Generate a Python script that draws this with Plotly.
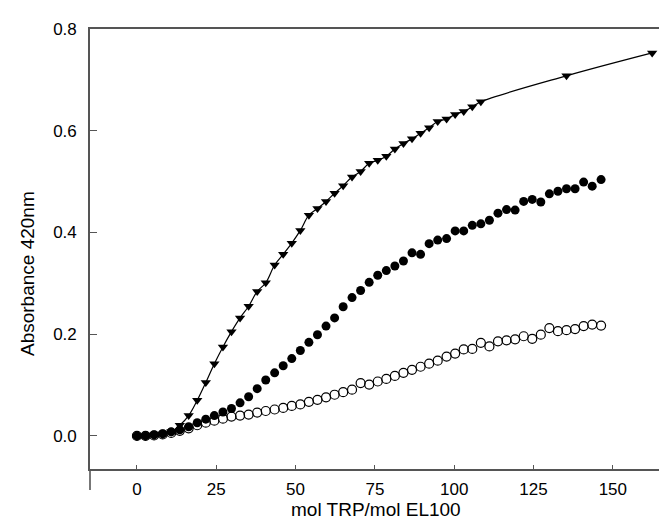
import plotly.graph_objects as go

# titration points: mol TRP / mol EL100, roughly 2.71 apart
tri_x = [0, 2.7, 5.4, 8.1, 10.8, 13.5, 16.3, 19.0, 21.7, 24.4, 27.1, 29.8, 32.5,
         35.2, 37.9, 40.6, 43.4, 46.1, 48.8, 51.5, 54.2, 56.9, 59.6, 62.3, 65.0,
         67.8, 70.5, 73.2, 75.9, 78.6, 81.3, 84.0, 86.7, 89.4, 92.1, 94.8, 97.6,
         100.3, 103.0, 105.7, 108.4, 135.4, 162.4]
tri_y = [0.0, 0.0, 0.002, 0.004, 0.008, 0.021, 0.040, 0.070, 0.105, 0.142, 0.175,
         0.205, 0.232, 0.255, 0.284, 0.301, 0.336, 0.357, 0.379, 0.404, 0.434,
         0.447, 0.461, 0.477, 0.492, 0.509, 0.520, 0.536, 0.542, 0.550, 0.564,
         0.575, 0.584, 0.595, 0.606, 0.618, 0.623, 0.632, 0.638, 0.647, 0.657,
         0.708, 0.753]

circ_x = [0, 2.7, 5.4, 8.1, 10.8, 13.5, 16.3, 19.0, 21.7, 24.4, 27.1, 29.8, 32.5,
          35.2, 37.9, 40.6, 43.4, 46.1, 48.8, 51.5, 54.2, 56.9, 59.6, 62.3, 65.0,
          67.8, 70.5, 73.2, 75.9, 78.6, 81.3, 84.0, 86.7, 89.4, 92.1, 94.8, 97.6,
          100.3, 103.0, 105.7, 108.4, 111.1, 113.8, 116.5, 119.2, 121.9, 124.6,
          127.3, 130.0, 132.7, 135.4, 138.1, 140.8, 143.5, 146.3]
filled_y = [0.0, 0.0, 0.002, 0.004, 0.008, 0.012, 0.018, 0.026, 0.033, 0.040,
            0.047, 0.054, 0.065, 0.077, 0.093, 0.110, 0.124, 0.138, 0.152, 0.168,
            0.184, 0.199, 0.216, 0.232, 0.254, 0.272, 0.286, 0.302, 0.316, 0.325,
            0.334, 0.344, 0.360, 0.357, 0.378, 0.385, 0.388, 0.403, 0.403, 0.414,
            0.417, 0.424, 0.438, 0.445, 0.444, 0.461, 0.465, 0.460, 0.476, 0.481,
            0.486, 0.486, 0.499, 0.491, 0.504]
open_y = [0.0, 0.0, 0.001, 0.003, 0.006, 0.010, 0.015, 0.021, 0.026, 0.030,
          0.034, 0.038, 0.040, 0.042, 0.046, 0.049, 0.052, 0.055, 0.059, 0.062,
          0.067, 0.071, 0.076, 0.081, 0.086, 0.091, 0.104, 0.101, 0.107, 0.112,
          0.118, 0.124, 0.130, 0.136, 0.142, 0.148, 0.156, 0.162, 0.170, 0.171,
          0.183, 0.176, 0.186, 0.188, 0.190, 0.196, 0.191, 0.199, 0.212, 0.206,
          0.208, 0.210, 0.216, 0.219, 0.217]

x_ticks = [0, 25, 50, 75, 100, 125, 150]
y_ticks = [0.0, 0.2, 0.4, 0.6, 0.8]
y_labels = ["0.0", "0.2", "0.4", "0.6", "0.8"]

AXC = "#555555"
FONT = "Liberation Sans, Arial, sans-serif"

fig = go.Figure()
fig.add_trace(go.Scatter(x=circ_x, y=open_y, mode="markers",
                         marker=dict(symbol="circle-open", size=9, color="black",
                                     line=dict(width=1.2))))
fig.add_trace(go.Scatter(x=circ_x, y=filled_y, mode="markers",
                         marker=dict(symbol="circle", size=9, color="black")))
fig.add_trace(go.Scatter(x=tri_x, y=tri_y, mode="lines+markers",
                         line=dict(color="black", width=1.2, shape="spline", smoothing=1.0),
                         marker=dict(symbol="triangle-down", size=9, color="black")))

# left axis runs on below the bottom frame line
fig.add_shape(type="line", xref="paper", yref="paper", x0=0, x1=0, y0=0, y1=-0.048,
              line=dict(color=AXC, width=1.6))

# axis titles as annotations so they sit where the original has them
fig.add_annotation(text="mol TRP/mol EL100", xref="paper", yref="paper",
                   x=0.489, y=-0.092, xanchor="center", yanchor="middle",
                   showarrow=False, font=dict(size=19))
fig.add_annotation(text="Absorbance 420nm", xref="paper", yref="paper",
                   x=-0.108, y=0.445, xanchor="center", yanchor="middle",
                   textangle=-90, showarrow=False, font=dict(size=19))

fig.update_layout(
    width=667, height=519,
    margin=dict(l=82, r=0, t=21, b=58),
    plot_bgcolor="white", paper_bgcolor="white",
    showlegend=False,
    font=dict(family=FONT, size=17, color="black"),
)
fig.update_xaxes(range=[-14.8, 169.6], tickvals=x_ticks, ticks="inside", ticklen=4,
                 tickcolor=AXC, showline=True, linecolor=AXC, linewidth=1.6,
                 mirror=True, showgrid=False, zeroline=False, ticklabelstandoff=4,
                 automargin=False)
fig.update_yaxes(range=[-0.065, 0.8], tickvals=y_ticks, ticktext=y_labels,
                 ticks="inside", ticklen=7, tickcolor=AXC, showline=True,
                 linecolor=AXC, linewidth=1.6, showgrid=False, zeroline=False,
                 ticklabelstandoff=8, automargin=False)

fig.write_html("out.html")
